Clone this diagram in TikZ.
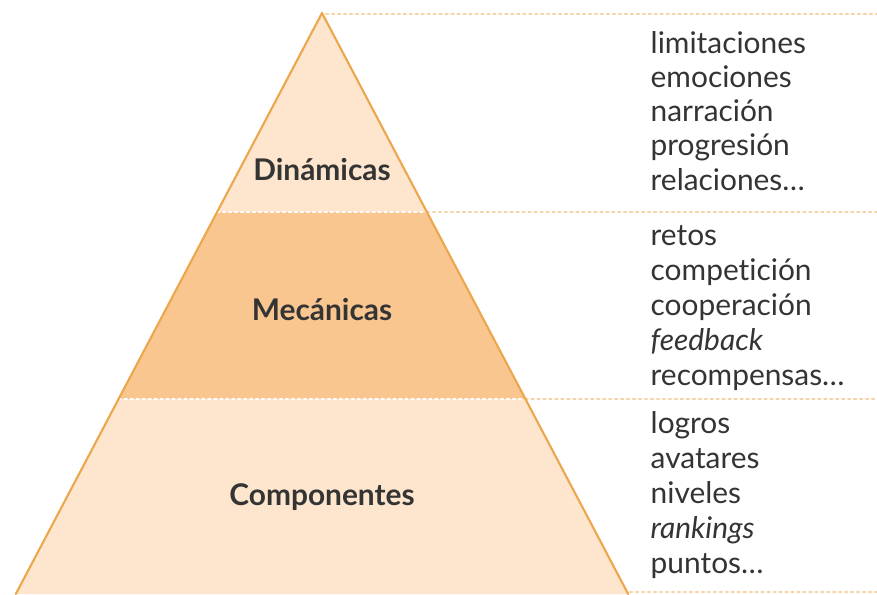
\documentclass[tikz,border=0pt]{standalone}
\usepackage{fontspec}
\setmainfont{Lato}[Ligatures=NoCommon]
\usepackage{tkz-euclide}
\definecolor{peachlight}{RGB}{253,230,205}
\definecolor{peachdark}{RGB}{249,198,144}
\definecolor{edgeorange}{RGB}{236,166,76}
\definecolor{guidetan}{RGB}{244,212,170}
\definecolor{textgray}{RGB}{52,52,52}
\tikzset{
  level text/.style={font=\fontsize{8.5}{10}\selectfont\bfseries,text=textgray,inner sep=0pt},
  item text/.style={font=\fontsize{8.5}{10}\selectfont,text=textgray,anchor=base west,inner sep=0pt},
  guide/.style={line width=0.65pt,dash pattern=on 0.65pt off 1.05pt}
}

\begin{document}
\begin{tikzpicture}
\useasboundingbox (0,0) rectangle (8.77,5.94);
% pyramid corners
\tkzDefPoint(3.22,5.81){T}
\tkzDefPoint(2.171,3.82){D_{L}}\tkzDefPoint(4.269,3.82){D_{R}}
\tkzDefPoint(1.186,1.95){M_{L}}\tkzDefPoint(5.254,1.95){M_{R}}
\tkzDefPoint(0.158,0){C_{L}}\tkzDefPoint(6.282,0){C_{R}}
% right ends of the guides
\tkzDefPoint(3.26,5.80){T_{G}}\tkzDefPoint(8.77,5.80){E_{1}}
\tkzDefPoint(8.77,3.82){E_{2}}\tkzDefPoint(8.77,1.95){E_{3}}
\tkzDefPoint(6.30,0.02){C_{G}}\tkzDefPoint(8.77,0.02){E_{4}}
\tkzFillPolygon[color=peachlight](T,D_{L},D_{R})
\tkzFillPolygon[color=peachdark](D_{L},M_{L},M_{R},D_{R})
\tkzFillPolygon[color=peachlight](M_{L},C_{L},C_{R},M_{R})
\tkzDrawSegments[white,guide](D_{L},D_{R} M_{L},M_{R})
\tkzDrawSegments[guidetan,guide](T_{G},E_{1} D_{R},E_{2} M_{R},E_{3} C_{G},E_{4})
\tkzDrawSegments[edgeorange,line width=0.6pt](T,C_{L} T,C_{R})
% levels
\node[level text] (dyn) at (3.22,4.24) {Dinámicas};
\node[level text] (mec) at (3.22,2.84) {Mecánicas};
\node[level text] (com) at (3.22,0.97) {Componentes};
% lists
\foreach \w [count=\i] in {limitaciones,emociones,narración,progresión,relaciones…}
  \node[item text] (dyn-\i) at (6.5,{(594-53-34.3*(\i-1))/100}) {\w};
\foreach \w [count=\i] in {retos,competición,cooperación,\textit{feedback},recompensas…}
  \node[item text] (mec-\i) at (6.5,{(594-245-35*(\i-1))/100}) {\w};
\foreach \w [count=\i] in {logros,avatares,niveles,\textit{rankings},puntos…}
  \node[item text] (com-\i) at (6.5,{(594-433-35*(\i-1))/100}) {\w};
\end{tikzpicture}
\end{document}
